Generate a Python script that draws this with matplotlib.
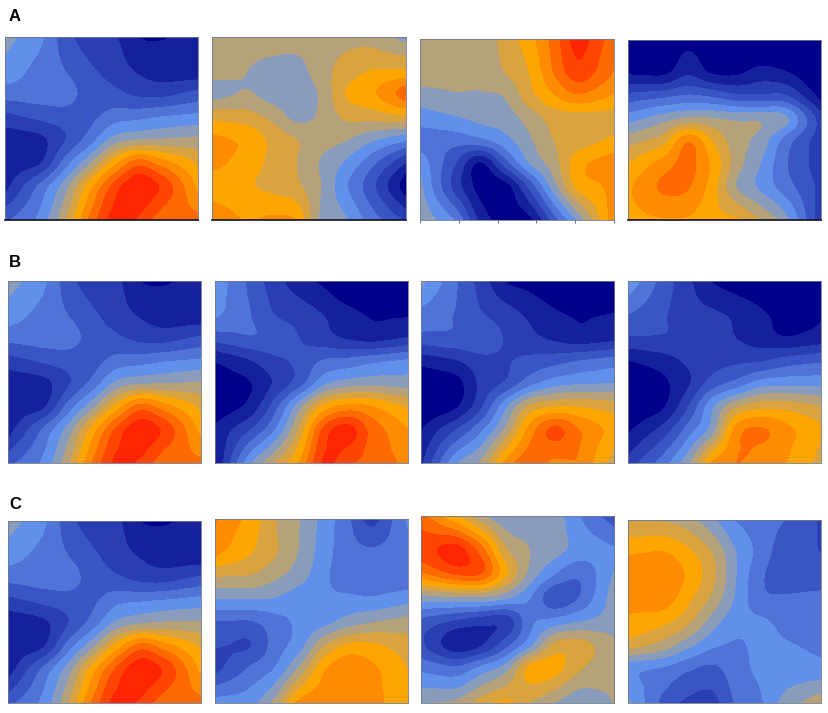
import matplotlib
matplotlib.use("Agg")
import matplotlib.pyplot as plt
from matplotlib.colors import ListedColormap, BoundaryNorm
import numpy as np

band_colors = ["#00008b", "#14209c", "#2a3eb4", "#3a55c4", "#5073d8", "#6090ea", "#8a9cbc",
               "#b5a27a", "#d9a440", "#ffa500", "#ff8c00", "#ff6a00", "#ff4500", "#ff2500"]
band_edges = [-50] + list(range(1, 14)) + [50]

A1 = [[5.8, 5.0, 3.6, 2.7, 2.3, 1.3, 1.1, 1.2],
      [5.3, 4.6, 4.0, 3.2, 2.6, 1.9, 1.5, 1.4],
      [4.5, 4.5, 4.4, 3.6, 3.3, 2.8, 2.7, 3.1],
      [2.9, 3.3, 3.6, 3.7, 4.5, 4.7, 5.0, 5.2],
      [1.5, 1.8, 3.0, 4.5, 6.4, 7.0, 7.1, 7.2],
      [1.5, 2.0, 4.5, 6.8, 9.5, 11.5, 10.5, 9.4],
      [2.5, 4.3, 6.5, 9.5, 12.3, 13.8, 12.8, 10.8],
      [3.7, 5.1, 7.5, 10.7, 13.1, 13.3, 12.0, 11.2]]
A2 = [[7.4, 7.4, 7.3, 7.2, 7.6, 7.9, 8.0, 7.6],
      [7.3, 7.0, 6.6, 6.6, 7.6, 8.4, 9.0, 9.1],
      [6.8, 7.1, 6.5, 6.3, 7.2, 9.0, 9.7, 10.9],
      [8.6, 8.4, 7.7, 6.7, 7.2, 8.2, 8.4, 8.7],
      [10.1, 9.7, 8.7, 8.0, 7.4, 7.1, 6.3, 5.6],
      [10.1, 9.5, 8.7, 8.0, 6.9, 5.9, 4.5, 2.9],
      [9.3, 9.1, 8.7, 8.2, 7.0, 5.2, 3.5, 1.5],
      [10.1, 9.6, 9.7, 9.3, 6.9, 5.8, 4.2, 2.7]]
A3 = [[7.3, 7.3, 7.3, 8.3, 9.4, 11.3, 13.2, 12.0],
      [7.4, 7.3, 7.3, 8.0, 9.0, 11.0, 12.6, 11.6],
      [6.7, 6.9, 6.9, 7.1, 8.6, 9.9, 10.9, 10.3],
      [5.6, 5.9, 6.3, 6.5, 7.4, 8.4, 8.5, 8.6],
      [4.5, 4.4, 4.7, 5.6, 6.8, 8.0, 8.5, 9.0],
      [4.8, 3.0, 0.9, 3.5, 6.0, 7.5, 9.6, 10.3],
      [5.0, 2.5, 0.6, 0.6, 3.3, 6.5, 9.3, 10.0],
      [5.8, 4.0, 1.3, 0.5, 1.5, 4.5, 7.3, 9.5]]
A4 = [[0.1, 0.2, 1.0, 0.3, 0.1, 0.1, 0.1, 0.1],
      [0.9, 0.9, 1.9, 1.0, 0.9, 1.5, 1.2, 0.4],
      [3.5, 3.8, 4.2, 3.9, 3.3, 3.2, 3.2, 1.6],
      [5.9, 6.6, 7.2, 7.1, 6.8, 6.8, 6.3, 3.8],
      [7.9, 8.7, 10.9, 9.0, 7.4, 6.6, 4.6, 3.1],
      [9.5, 10.5, 11.3, 9.8, 7.5, 6.0, 4.2, 3.0],
      [10.3, 11.2, 11.1, 9.5, 7.0, 5.8, 4.5, 3.3],
      [10.0, 10.4, 10.3, 9.3, 8.4, 7.2, 5.8, 3.6]]
B1 = [[5.8, 5.0, 3.6, 2.7, 2.3, 1.3, 1.1, 1.2],
      [5.2, 4.6, 4.0, 3.2, 2.5, 1.9, 1.5, 1.4],
      [4.4, 4.5, 4.4, 3.6, 3.2, 2.7, 2.6, 3.0],
      [2.8, 3.2, 3.5, 3.6, 4.4, 4.6, 4.9, 5.1],
      [1.4, 1.7, 2.9, 4.4, 6.3, 6.9, 7.0, 7.1],
      [1.4, 1.9, 4.4, 6.7, 9.4, 11.4, 10.4, 9.3],
      [2.4, 4.2, 6.4, 9.4, 12.2, 13.7, 12.7, 10.7],
      [3.6, 5.0, 7.4, 10.6, 13.0, 13.2, 11.9, 11.1]]
B2 = [[5.0, 3.8, 2.6, 1.8, 1.2, 0.4, 0.2, 0.3],
      [4.8, 4.0, 3.0, 2.6, 2.0, 1.4, 0.9, 0.9],
      [3.6, 3.9, 3.7, 3.0, 2.4, 1.9, 1.6, 1.9],
      [1.4, 2.0, 2.8, 3.2, 4.1, 4.3, 4.7, 5.0],
      [0.6, 1.0, 2.2, 3.6, 5.8, 6.5, 6.7, 6.6],
      [0.6, 1.4, 3.6, 6.6, 9.3, 10.3, 10.0, 9.2],
      [1.7, 3.0, 5.0, 8.2, 12.2, 13.4, 11.6, 10.5],
      [2.3, 5.0, 7.0, 9.5, 12.9, 12.8, 11.6, 10.9]]
B3 = [[5.2, 4.0, 2.7, 1.5, 1.0, 0.5, 0.2, 0.2],
      [4.4, 3.9, 3.1, 2.5, 1.8, 1.2, 0.9, 1.0],
      [3.7, 3.8, 3.8, 2.9, 2.3, 1.8, 1.4, 1.6],
      [1.6, 2.0, 2.7, 2.9, 3.3, 3.6, 4.0, 4.3],
      [0.3, 0.7, 2.3, 3.2, 4.7, 5.6, 5.9, 6.0],
      [0.3, 0.95, 2.9, 5.8, 8.2, 8.9, 8.9, 8.6],
      [1.6, 3.0, 4.8, 7.2, 10.4, 12.2, 11.0, 10.0],
      [2.7, 5.0, 6.5, 9.3, 11.3, 11.4, 11.0, 9.6]]
B4 = [[4.6, 3.4, 2.3, 1.4, 0.9, 0.5, 0.2, 0.2],
      [3.7, 3.1, 2.4, 2.2, 1.8, 1.2, 0.7, 0.8],
      [2.9, 2.9, 2.8, 2.5, 2.0, 1.5, 1.1, 1.3],
      [1.2, 1.6, 2.2, 2.6, 2.8, 2.9, 3.4, 3.7],
      [0.2, 0.8, 1.9, 3.5, 4.4, 5.5, 5.7, 5.7],
      [0.3, 0.95, 3.0, 5.8, 7.8, 8.6, 8.6, 8.2],
      [1.3, 2.4, 4.4, 6.5, 10.4, 11.1, 10.3, 9.5],
      [2.5, 3.9, 6.0, 8.9, 10.9, 10.8, 10.2, 9.3]]
C1 = [[5.8, 5.0, 3.6, 2.7, 2.3, 1.3, 1.1, 1.2],
      [5.2, 4.6, 4.0, 3.2, 2.5, 1.9, 1.5, 1.4],
      [4.4, 4.5, 4.4, 3.6, 3.2, 2.7, 2.6, 3.0],
      [2.9, 3.3, 3.6, 3.8, 4.7, 4.9, 5.1, 5.3],
      [1.4, 1.8, 3.0, 4.5, 6.3, 7.0, 7.2, 7.2],
      [1.4, 2.0, 4.5, 6.8, 9.5, 11.5, 10.5, 9.4],
      [2.4, 4.3, 6.5, 9.5, 12.2, 13.7, 12.8, 10.8],
      [3.6, 5.1, 7.5, 10.7, 13.1, 13.2, 12.0, 11.2]]
C2 = [[10.4, 9.4, 8.1, 7.0, 5.6, 4.3, 3.2, 4.3],
      [9.8, 9.0, 8.1, 6.9, 5.5, 4.4, 4.2, 4.4],
      [8.0, 7.9, 7.2, 6.4, 5.3, 4.3, 4.2, 4.3],
      [6.0, 6.0, 5.9, 5.4, 5.2, 5.3, 5.2, 5.5],
      [3.9, 3.9, 4.6, 5.2, 5.7, 6.5, 7.0, 7.3],
      [3.0, 3.0, 4.5, 5.6, 7.9, 9.2, 9.2, 8.7],
      [3.2, 4.2, 5.1, 7.2, 9.8, 10.7, 10.2, 9.4],
      [4.7, 5.2, 6.6, 9.3, 10.4, 10.5, 10.3, 9.6]]
C3 = [[11.5, 10.5, 8.6, 6.8, 6.5, 6.5, 5.3, 4.4],
      [12.9, 13.4, 11.5, 8.2, 7.0, 6.4, 5.6, 5.3],
      [11.3, 12.2, 12.0, 9.2, 6.7, 5.1, 4.2, 5.4],
      [6.8, 7.0, 7.0, 6.3, 5.1, 3.3, 4.0, 5.7],
      [3.5, 2.9, 2.5, 2.4, 4.7, 5.3, 5.9, 6.3],
      [2.5, 1.3, 1.9, 3.6, 5.7, 8.2, 8.4, 7.6],
      [4.5, 4.2, 5.3, 6.5, 9.3, 9.4, 8.2, 7.5],
      [6.2, 6.3, 7.5, 8.4, 8.6, 7.9, 6.9, 7.0]]
C4 = [[8.6, 8.6, 8.0, 6.8, 5.3, 4.6, 3.8, 3.2],
      [10.0, 10.1, 9.3, 8.0, 6.0, 4.6, 3.4, 3.1],
      [10.8, 10.9, 9.8, 8.3, 6.0, 4.2, 3.4, 3.3],
      [10.4, 10.5, 9.2, 7.7, 5.8, 4.3, 4.2, 4.3],
      [9.6, 9.2, 8.2, 6.5, 5.3, 5.2, 4.7, 4.3],
      [8.2, 7.5, 6.3, 5.2, 4.9, 5.2, 5.1, 4.9],
      [5.2, 4.9, 4.2, 3.8, 4.6, 5.2, 5.3, 5.3],
      [5.2, 4.0, 3.2, 3.0, 4.3, 5.0, 6.0, 6.6]]

panels = [(A1, 5, 37, 198, 220, True), (A2, 212, 37, 406, 220, True),
          (A3, 420, 39, 614, 220, False), (A4, 628, 40, 821, 220, True),
          (B1, 8, 281, 201, 463, False), (B2, 215, 281, 408, 463, False),
          (B3, 421, 281, 614, 463, False), (B4, 628, 281, 821, 463, False),
          (C1, 8, 521, 201, 703, False), (C2, 215, 519, 408, 703, False),
          (C3, 421, 516, 614, 703, False), (C4, 628, 520, 821, 703, False)]
letters = [("A", 9, 21), ("B", 9, 267), ("C", 9, 509)]
tick_count = 6

W, H = 829, 713
fig = plt.figure(figsize=(W / 100, H / 100), dpi=100, facecolor="white")
cmap = ListedColormap(band_colors)
norm = BoundaryNorm(band_edges, cmap.N)

for grid, x0, y0, x1, y1, dark_base in panels:
    ax = fig.add_axes([x0 / W, 1 - y1 / H, (x1 - x0) / W, (y1 - y0) / H])
    z = np.pad(np.array(grid, dtype=float), 2, mode="reflect", reflect_type="odd")
    ax.imshow(z, cmap=cmap, norm=norm, interpolation="catrom",
              interpolation_stage="data", aspect="auto",
              extent=(-2.5, 9.5, 9.5, -2.5))
    ax.set_xlim(-0.5, 7.5)
    ax.set_ylim(7.5, -0.5)
    ax.set_yticks([])
    if grid is A3:
        ax.set_xticks(np.linspace(-0.5, 7.5, tick_count))
        ax.set_xticklabels([])
        ax.tick_params(axis="x", length=2, width=0.6, color="#505868")
    else:
        ax.set_xticks([])
    for s in ax.spines.values():
        s.set_linewidth(0.6)
        s.set_color("#70788c")
    if dark_base:
        ax.spines["bottom"].set_color("#101020")
        ax.spines["bottom"].set_linewidth(1.2)

for t, x, y in letters:
    fig.text(x / W, 1 - y / H, t, fontsize=12, fontweight="bold",
             family="Liberation Sans", color="black", ha="left", va="baseline")

fig.savefig("out.png", dpi=100, facecolor="white")
